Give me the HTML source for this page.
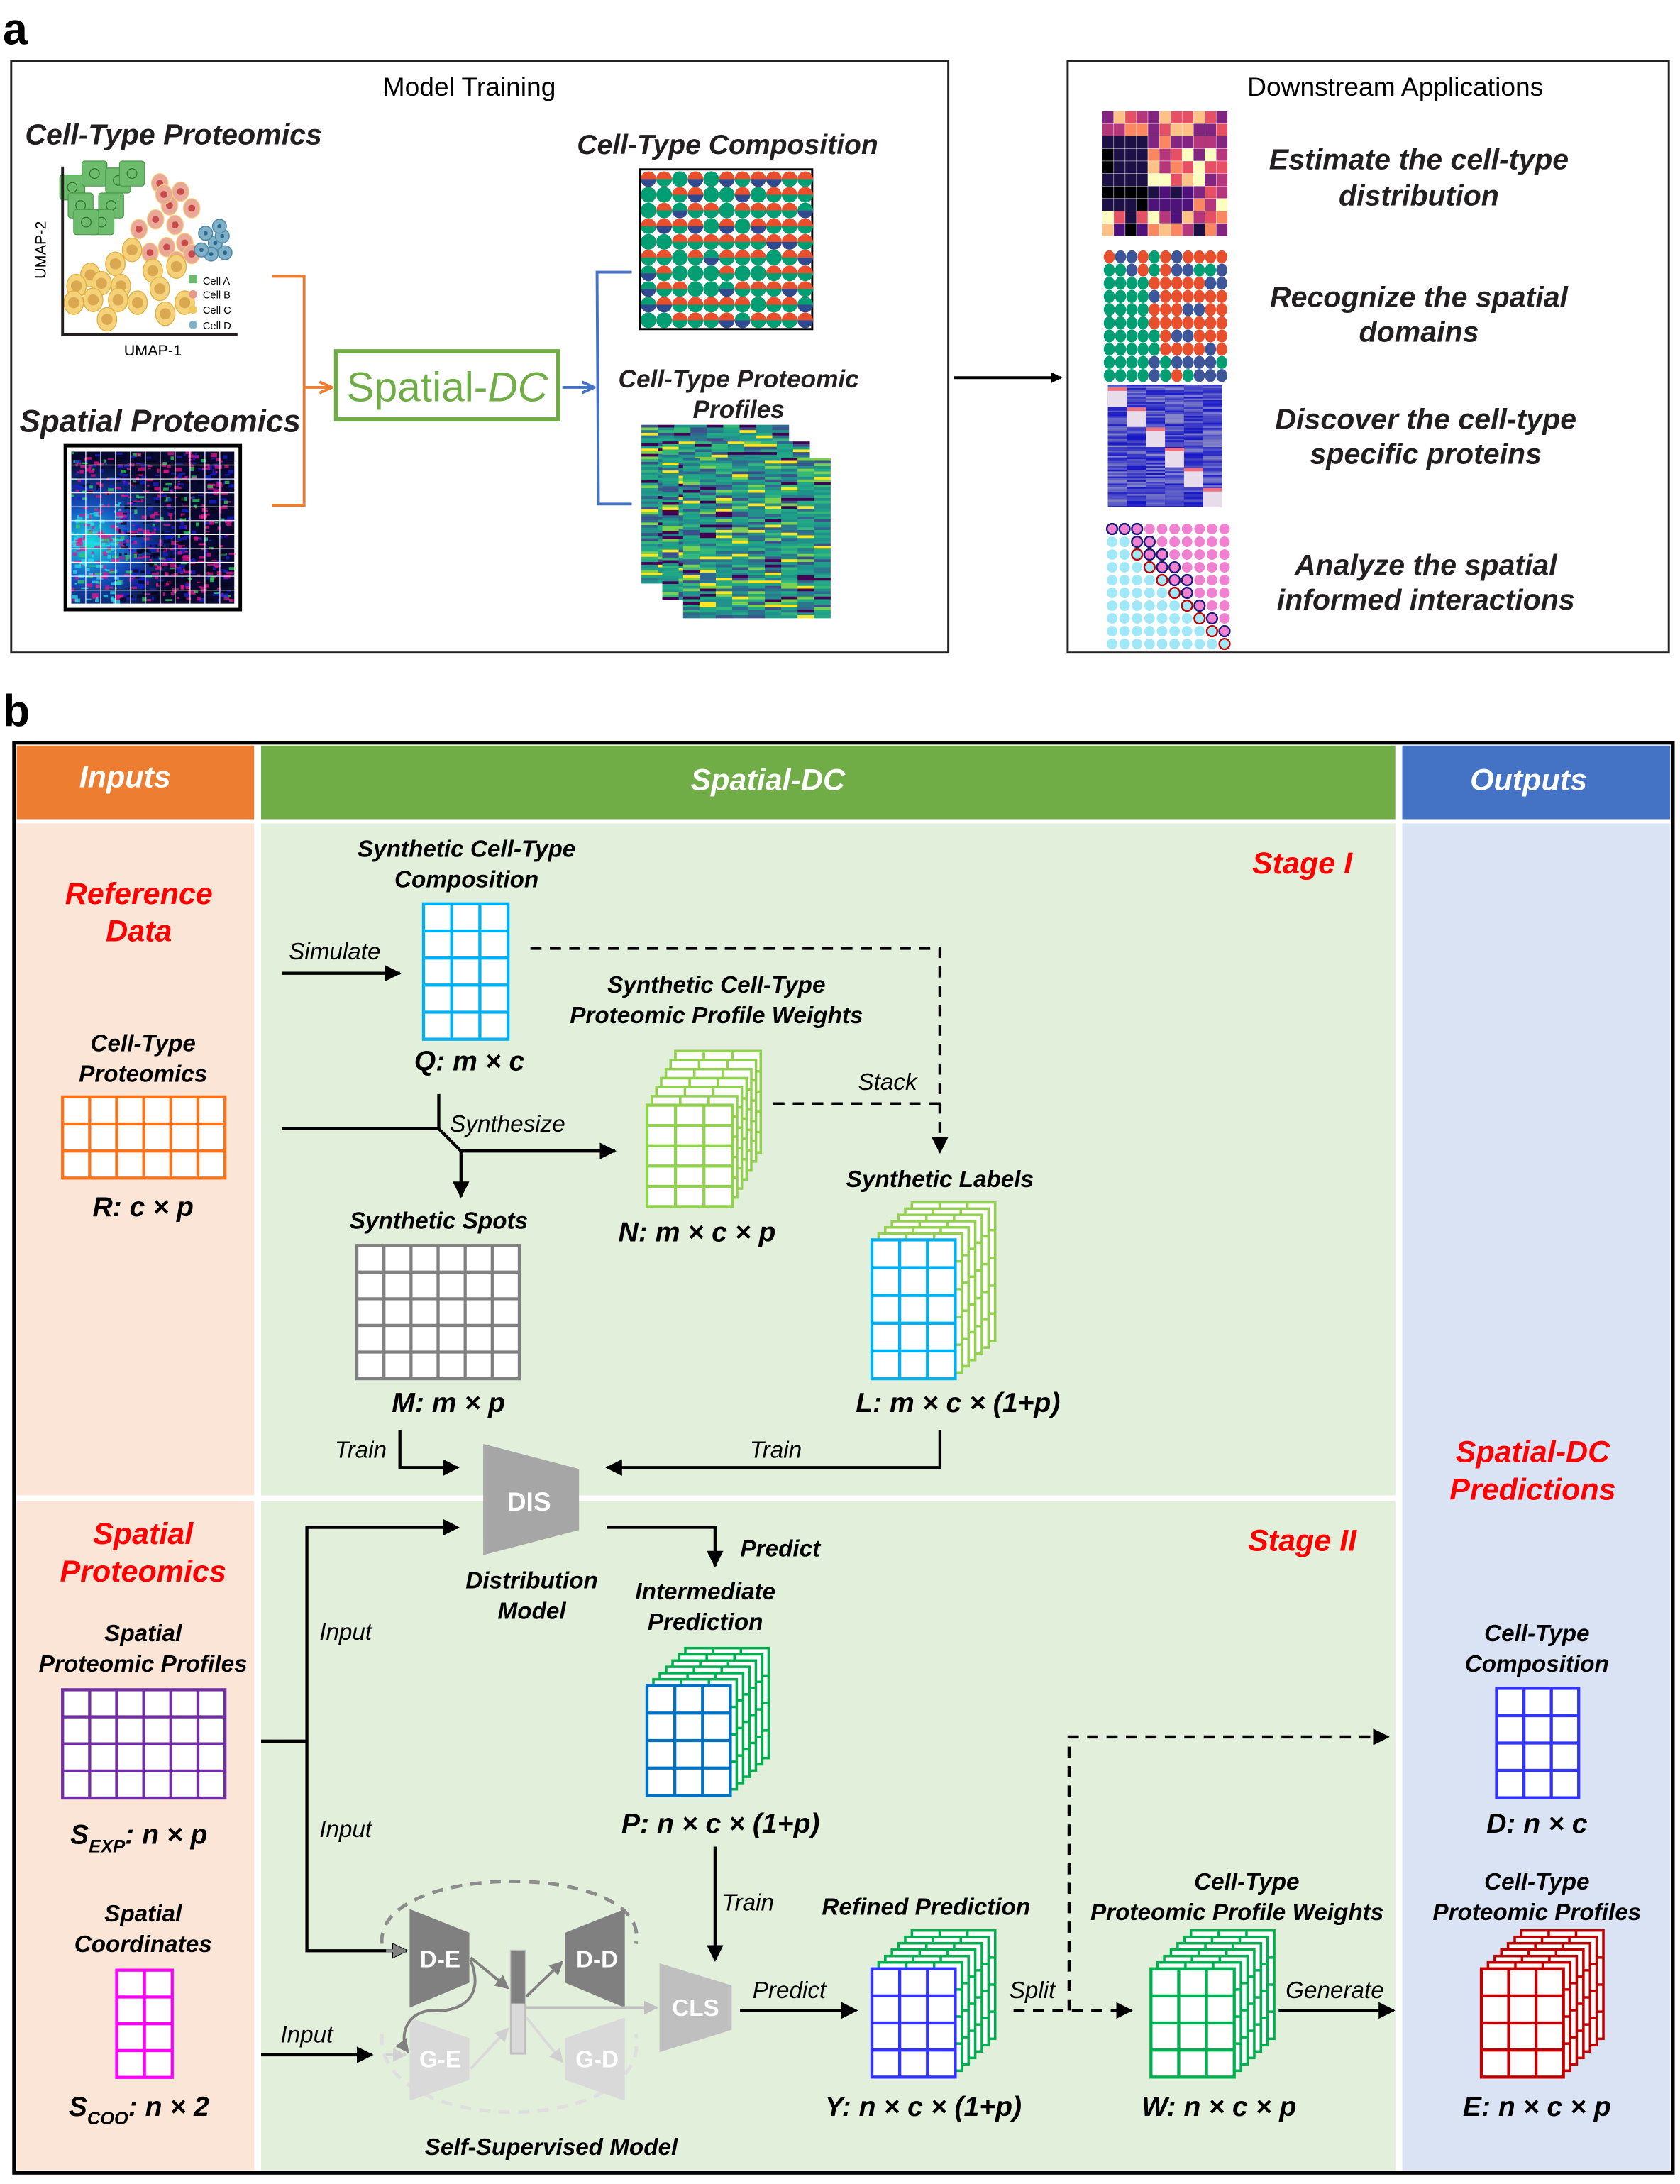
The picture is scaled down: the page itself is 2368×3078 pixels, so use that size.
<!DOCTYPE html>
<html><head><meta charset="utf-8">
<style>
html,body{margin:0;padding:0;background:#fff}
svg{display:block}
text{font-family:"Liberation Sans",Arial,sans-serif}
.bi{font-weight:bold;font-style:italic}
.it{font-style:italic}
</style></head><body>
<svg id="s" xmlns="http://www.w3.org/2000/svg" width="2368" height="3078" viewBox="0 0 1210 1573">
<defs>
<marker id="ah" markerWidth="8" markerHeight="8" refX="7" refY="4" orient="auto" markerUnits="userSpaceOnUse"><path d="M0,0 L8,4 L0,8z" fill="#000"/></marker>
<marker id="ahb" markerWidth="12" markerHeight="12" refX="11" refY="6" orient="auto" markerUnits="userSpaceOnUse"><path d="M0,0 L12,6 L0,12z" fill="#000"/></marker>
<marker id="aho" markerWidth="10" markerHeight="10" refX="9" refY="5" orient="auto" markerUnits="userSpaceOnUse"><path d="M0,1 L9,5 L0,9" fill="none" stroke="#ed7d31" stroke-width="2"/></marker>
<marker id="ahbl" markerWidth="10" markerHeight="10" refX="9" refY="5" orient="auto" markerUnits="userSpaceOnUse"><path d="M0,1 L9,5 L0,9" fill="none" stroke="#4472c4" stroke-width="2"/></marker>
<marker id="ahg" markerWidth="10" markerHeight="10" refX="9" refY="5" orient="auto" markerUnits="userSpaceOnUse"><path d="M0,0 L10,5 L0,10z" fill="#808080"/></marker>
<marker id="ahl" markerWidth="10" markerHeight="10" refX="9" refY="5" orient="auto" markerUnits="userSpaceOnUse"><path d="M0,0 L10,5 L0,10z" fill="#d0d0d0"/></marker>
<marker id="ahm" markerWidth="10" markerHeight="10" refX="9" refY="5" orient="auto" markerUnits="userSpaceOnUse"><path d="M0,0 L10,5 L0,10z" fill="#bfbfbf"/></marker>
<radialGradient id="cy" cx="0.12" cy="0.6" r="0.55"><stop offset="0" stop-color="#19e0e0"/><stop offset="0.45" stop-color="#1450c0"/><stop offset="1" stop-color="#080830"/></radialGradient>
</defs>

<!-- Panel a -->
<text x="2" y="32" font-size="32" font-weight="bold">a</text>
<rect x="8" y="44" width="675" height="426" fill="none" stroke="#222" stroke-width="1.5"/>
<rect x="769" y="44" width="433" height="426" fill="none" stroke="#222" stroke-width="1.5"/>
<text x="338" y="69" font-size="19" text-anchor="middle">Model Training</text>
<text x="1005" y="69" font-size="19" text-anchor="middle">Downstream Applications</text>
<line x1="687" y1="272" x2="764" y2="272" stroke="#000" stroke-width="2" marker-end="url(#ah)"/>

<text x="18" y="104" font-size="21" class="bi" fill="#231f20">Cell-Type Proteomics</text>
<g id="umap"></g>
<polyline points="45,120 45,241 171,241" fill="none" stroke="#231f20" stroke-width="2"/>
<text x="33" y="180" font-size="11" text-anchor="middle" transform="rotate(-90 33 180)">UMAP-2</text>
<text x="110" y="256" font-size="11" text-anchor="middle">UMAP-1</text>
<g font-size="7.5">
<rect x="136" y="198" width="6" height="6" fill="#6dbb6d"/><text x="146" y="205">Cell A</text>
<circle cx="139" cy="212" r="3" fill="#e89a8a"/><text x="146" y="215">Cell B</text>
<circle cx="139" cy="223" r="3" fill="#f0c860"/><text x="146" y="226">Cell C</text>
<circle cx="139" cy="234" r="3" fill="#7fb0c8"/><text x="146" y="237">Cell D</text>
</g>

<text x="14" y="311" font-size="22.5" class="bi" fill="#231f20">Spatial Proteomics</text>
<rect x="47" y="321" width="126" height="118" fill="#fff" stroke="#000" stroke-width="2.5"/>
<rect x="51" y="325" width="118" height="110" fill="url(#cy)"/>
<g id="spimg"></g>

<polyline points="196,199 219,199 219,364 196,364" fill="none" stroke="#ed7d31" stroke-width="2"/>
<line x1="219" y1="279" x2="239" y2="279" stroke="#ed7d31" stroke-width="2" marker-end="url(#aho)"/>
<rect x="242" y="253" width="160" height="49" fill="#fff" stroke="#70ad47" stroke-width="3"/>
<text x="322" y="289" font-size="30" text-anchor="middle" fill="#70ad47">Spatial-<tspan font-style="italic">DC</tspan></text>
<line x1="405" y1="279" x2="428" y2="279" stroke="#4472c4" stroke-width="2" marker-end="url(#ahbl)"/>
<polyline points="455,196 430,196 431,363 455,363" fill="none" stroke="#4472c4" stroke-width="2"/>

<text x="524" y="111" font-size="20" class="bi" text-anchor="middle" fill="#231f20">Cell-Type Composition</text>
<rect x="461" y="122" width="124" height="115" fill="#fff" stroke="#000" stroke-width="1.5"/>
<g id="comp"></g>
<text x="532" y="279" font-size="18" class="bi" text-anchor="middle" fill="#231f20">Cell-Type Proteomic</text>
<text x="532" y="301" font-size="18" class="bi" text-anchor="middle" fill="#231f20">Profiles</text>
<g id="heat"></g>

<g id="down"></g>
<g font-size="21" class="bi" text-anchor="middle" fill="#231f20">
<text x="1022" y="122">Estimate the cell-type</text>
<text x="1022" y="148">distribution</text>
<text x="1022" y="221">Recognize the spatial</text>
<text x="1022" y="246">domains</text>
<text x="1027" y="309">Discover the cell-type</text>
<text x="1027" y="334">specific proteins</text>
<text x="1027" y="414">Analyze the spatial</text>
<text x="1027" y="439">informed interactions</text>
</g>

<!-- Panel b -->
<text x="2" y="523" font-size="32" font-weight="bold">b</text>
<rect x="10" y="535" width="1195" height="1030" fill="#fff" stroke="#000" stroke-width="2.5"/>
<rect x="12" y="537" width="171" height="53" fill="#ed7d31"/>
<rect x="188" y="537" width="817" height="53" fill="#70ad47"/>
<rect x="1010" y="537" width="193" height="53" fill="#4472c4"/>
<rect x="12" y="593" width="171" height="484" fill="#fbe5d6"/>
<rect x="12" y="1081" width="171" height="482" fill="#fbe5d6"/>
<rect x="188" y="593" width="817" height="484" fill="#e2efda"/>
<rect x="188" y="1081" width="817" height="482" fill="#e2efda"/>
<rect x="1010" y="593" width="193" height="970" fill="#dae3f3"/>
<g font-size="22" class="bi" fill="#fff" text-anchor="middle">
<text x="90" y="567">Inputs</text>
<text x="553" y="569">Spatial-DC</text>
<text x="1101" y="569">Outputs</text>
</g>
<g font-size="22" class="bi" fill="#ff0000" text-anchor="middle">
<text x="100" y="651">Reference</text><text x="100" y="678">Data</text>
<text x="103" y="1112">Spatial</text><text x="103" y="1139">Proteomics</text>
<text x="1104" y="1053">Spatial-DC</text><text x="1104" y="1080">Predictions</text>
<text x="938" y="629">Stage I</text>
<text x="938" y="1117">Stage II</text>
</g>
<g font-size="17" class="bi" text-anchor="middle" fill="#000">
<text x="103" y="757">Cell-Type</text><text x="103" y="779">Proteomics</text>
<text x="103" y="1182">Spatial</text><text x="103" y="1204">Proteomic Profiles</text>
<text x="103" y="1384">Spatial</text><text x="103" y="1406">Coordinates</text>
<text x="336" y="617">Synthetic Cell-Type</text><text x="336" y="639">Composition</text>
<text x="516" y="715">Synthetic Cell-Type</text><text x="516" y="737">Proteomic Profile Weights</text>
<text x="677" y="855">Synthetic Labels</text>
<text x="316" y="885">Synthetic Spots</text>
<text x="383" y="1144">Distribution</text><text x="383" y="1166">Model</text>
<text x="508" y="1152">Intermediate</text><text x="508" y="1174">Prediction</text>
<text x="667" y="1379">Refined Prediction</text>
<text x="898" y="1361">Cell-Type</text><text x="891" y="1383">Proteomic Profile Weights</text>
<text x="1107" y="1182">Cell-Type</text><text x="1107" y="1204">Composition</text>
<text x="1107" y="1361">Cell-Type</text><text x="1107" y="1383">Proteomic Profiles</text>
<text x="397" y="1552">Self-Supervised Model</text>
<text x="562" y="1121">Predict</text>
</g>
<g font-size="20" class="bi" text-anchor="middle" fill="#000">
<text x="103" y="876">R: c × p</text>
<text x="338" y="771">Q: m × c</text>
<text x="502" y="894">N: m × c × p</text>
<text x="323" y="1017">M: m × p</text>
<text x="690" y="1017">L: m × c × (1+p)</text>
<text x="519" y="1320">P: n × c × (1+p)</text>
<text x="100" y="1328">S<tspan font-size="13" dy="6">EXP</tspan><tspan dy="-6">: n × p</tspan></text>
<text x="100" y="1524">S<tspan font-size="13" dy="6">COO</tspan><tspan dy="-6">: n × 2</tspan></text>
<text x="665" y="1524">Y: n × c × (1+p)</text>
<text x="878" y="1524">W: n × c × p</text>
<text x="1107" y="1320">D: n × c</text>
<text x="1107" y="1524">E: n × c × p</text>
</g>
<g font-size="17" class="it" fill="#000">
<text x="208" y="691">Simulate</text>
<text x="324" y="815">Synthesize</text>
<text x="618" y="785">Stack</text>
<text x="241" y="1050">Train</text>
<text x="540" y="1050">Train</text>
<text x="230" y="1181">Input</text>
<text x="230" y="1323">Input</text>
<text x="202" y="1471">Input</text>
<text x="520" y="1376">Train</text>
<text x="542" y="1439">Predict</text>
<text x="727" y="1439">Split</text>
<text x="926" y="1439">Generate</text>
</g>

<g id="grids"></g>

<g stroke="#000" stroke-width="2.2" fill="none">
<line x1="203" y1="701" x2="288" y2="701" marker-end="url(#ahb)"/>
<polyline points="382,683 677,683 677,830" stroke-dasharray="8,6" marker-end="url(#ahb)"/>
<line x1="557" y1="795" x2="677" y2="795" stroke-dasharray="8,6"/>
<line x1="316" y1="788" x2="316" y2="813"/>
<polyline points="203,813 316,813 332,829 443,829" marker-end="url(#ahb)"/>
<line x1="332" y1="829" x2="332" y2="862" marker-end="url(#ahb)"/>
<polyline points="288,1030 288,1057 330,1057" marker-end="url(#ahb)"/>
<polyline points="677,1030 677,1057 437,1057" marker-end="url(#ahb)"/>
<polyline points="437,1100 515,1100 515,1128" marker-end="url(#ahb)"/>
<polyline points="188,1254 221,1254"/>
<polyline points="330,1100 221,1100 221,1405 293,1405" marker-end="url(#ahb)"/>
<line x1="221" y1="1100" x2="330" y2="1100" marker-end="url(#ahb)"/>
<line x1="188" y1="1480" x2="268" y2="1480" marker-end="url(#ahb)"/>
<line x1="515" y1="1330" x2="515" y2="1412" marker-end="url(#ahb)"/>
<line x1="533" y1="1448" x2="617" y2="1448" marker-end="url(#ahb)"/>
<line x1="730" y1="1448" x2="815" y2="1448" stroke-dasharray="8,6" marker-end="url(#ahb)"/>
<polyline points="770,1448 770,1251 1000,1251" stroke-dasharray="8,6" marker-end="url(#ahb)"/>
<line x1="921" y1="1448" x2="1004" y2="1448" marker-end="url(#ahb)"/>
</g>

<!-- DIS -->
<polygon points="348,1040 417,1058 417,1102 348,1120" fill="#a6a6a6"/>
<text x="381" y="1088" font-size="19" font-weight="bold" fill="#fff" text-anchor="middle">DIS</text>

<!-- self-supervised -->
<path d="M275,1400 C270,1340 470,1340 458,1400" fill="none" stroke="#8c8c8c" stroke-width="2.5" stroke-dasharray="8,6"/>
<path d="M275,1465 C270,1540 470,1540 458,1465" fill="none" stroke="#dedede" stroke-width="2.5" stroke-dasharray="8,6"/>
<polygon points="295,1375 338,1392 338,1428 295,1446" fill="#808080"/>
<polygon points="407,1392 450,1375 450,1446 407,1428" fill="#808080"/>
<polygon points="295,1453 338,1468 338,1498 295,1513" fill="#d9d9d9"/>
<polygon points="407,1468 450,1453 450,1513 407,1498" fill="#d9d9d9"/>
<polygon points="475,1414 527,1430 527,1462 475,1478" fill="#bfbfbf"/>
<rect x="368" y="1405" width="10" height="74" fill="#d9d9d9" stroke="#bfbfbf" stroke-width="1.5"/>
<rect x="368" y="1405" width="10" height="38" fill="#808080"/>
<g stroke-width="2" fill="none">
<line x1="278" y1="1405" x2="292" y2="1405" stroke="#8c8c8c" marker-end="url(#ahg)"/>
<line x1="278" y1="1480" x2="292" y2="1480" stroke="#d0d0d0" marker-end="url(#ahl)"/>
<line x1="339" y1="1410" x2="366" y2="1432" stroke="#808080" marker-end="url(#ahg)"/>
<line x1="379" y1="1438" x2="405" y2="1413" stroke="#808080" marker-end="url(#ahg)"/>
<line x1="379" y1="1446" x2="473" y2="1446" stroke="#bfbfbf" marker-end="url(#ahm)"/>
<line x1="339" y1="1490" x2="366" y2="1461" stroke="#d9d9d9" marker-end="url(#ahl)"/>
<line x1="379" y1="1453" x2="405" y2="1485" stroke="#d9d9d9" marker-end="url(#ahl)"/>
<path d="M339,1412 C350,1440 330,1450 310,1448 C290,1450 288,1470 294,1478" stroke="#808080" marker-end="url(#ahg)"/>
</g>
<g font-size="17" font-weight="bold" fill="#fff" text-anchor="middle">
<text x="317" y="1417">D-E</text><text x="430" y="1417">D-D</text>
<text x="317" y="1489">G-E</text><text x="430" y="1489">G-D</text>
<text x="501" y="1452">CLS</text>
</g>
</svg>
<script>
var NS="http://www.w3.org/2000/svg";
function el(p,t,a){var e=document.createElementNS(NS,t);for(var k in a)e.setAttribute(k,a[k]);p.appendChild(e);return e;}
var seed=7;function rnd(){seed=(seed*16807)%2147483647;return (seed-1)/2147483646;}
function $(id){return document.getElementById(id);}
var G=$("grids");
function grid(x,y,c,r,w,h,col,sw){el(G,"rect",{x:x,y:y,width:c*w,height:r*h,fill:"#fff",stroke:col,"stroke-width":sw||2.2});
for(var i=1;i<c;i++)el(G,"line",{x1:x+i*w,y1:y,x2:x+i*w,y2:y+r*h,stroke:col,"stroke-width":sw||2.2});
for(var j=1;j<r;j++)el(G,"line",{x1:x,y1:y+j*h,x2:x+c*w,y2:y+j*h,stroke:col,"stroke-width":sw||2.2});}
function stack(x,y,c,r,w,h,back,front,n,dx,dy){for(var k=n;k>=1;k--)grid(x+k*dx,y-k*dy,c,r,w,h,back,1.8);grid(x,y,c,r,w,h,front,2.2);}
grid(45,790,6,3,19.5,19.5,"#f4741f");
grid(305,651,3,5,20.3,19.5,"#00b0f0");
stack(466,796,3,5,20.5,14.6,"#92d050","#92d050",6,3.4,6.5);
grid(257,897,6,5,19.5,19.2,"#808080");
stack(628,893,3,5,20,20,"#92d050","#00b0f0",6,4.8,4.5);
grid(45,1217,6,4,19.5,19.5,"#7030a0");
grid(84,1419,2,4,20,19.3,"#ff00ff");
stack(466,1214,3,4,20,19.8,"#00b050","#0070c0",6,4.6,4.5);
stack(628,1418,3,4,20,19.5,"#00b050","#3333ff",6,4.8,4.6);
stack(829,1418,3,4,20,19.5,"#00b050","#00b050",6,4.8,4.6);
grid(1078,1216,3,4,19.7,19.7,"#3333ff");
stack(1067,1418,3,4,19.7,19.5,"#c00000","#c00000",6,4.8,4.6);
var U=$("umap");
[[52,135],[68,125],[85,130],[95,125],[58,148],[80,148],[73,160],[62,160]].forEach(function(p){el(U,"rect",{x:p[0]-9,y:p[1]-9,width:18,height:18,rx:2,fill:"#6dbb6d",stroke:"#4a9a4a","stroke-width":0.6});el(U,"circle",{cx:p[0],cy:p[1],r:3.5,fill:"none",stroke:"#2f6f2f","stroke-width":0.6});});
[[115,142],[122,158],[130,148],[112,168],[126,172],[138,160],[100,175],[120,188],[133,185],[108,192],[138,193],[127,198],[118,150]].forEach(function(p){el(U,"ellipse",{cx:p[0]+0,cy:p[1]-10,rx:6,ry:7,fill:"#eaa898",stroke:"#f5d27a","stroke-width":0.6});el(U,"circle",{cx:p[0],cy:p[1]-10,r:2.5,fill:"#c84a4a"});});
[[148,168],[155,175],[160,170],[152,183],[162,182],[145,180],[158,163]].forEach(function(p){el(U,"circle",{cx:p[0],cy:p[1],r:5,fill:"#7fb0c8",stroke:"#4f8aa8","stroke-width":0.8});el(U,"circle",{cx:p[0],cy:p[1],r:1.5,fill:"#2a6a8a"});});
[[100,198],[88,208],[70,216],[60,224],[78,222],[92,224],[115,213],[132,210],[58,236],[72,234],[90,234],[104,236],[120,226],[124,244],[138,236],[82,248]].forEach(function(p){el(U,"ellipse",{cx:p[0]-5,cy:p[1]-18,rx:7,ry:8.5,fill:"#f5d27a",stroke:"#e0b040","stroke-width":0.7});el(U,"circle",{cx:p[0]-5,cy:p[1]-18,r:4,fill:"#d9a850"});});
var S=$("spimg");
for(var i=0;i<900;i++){var x=51+rnd()*114,y=325+rnd()*107;var r=rnd();var c=r<0.35?"#e0168a":(r<0.45?"#30d060":(r<0.7?"#1a20d0":"#05051a"));if(x<85&&y>360&&r>0.45)c="#30d8e8";el(S,"rect",{x:x,y:y,width:1.5+rnd()*4,height:1+rnd()*2,fill:c,opacity:0.75});}
for(var i=0;i<=11;i++){el(S,"line",{x1:51+i*118/11,y1:325,x2:51+i*118/11,y2:435,stroke:"#fff","stroke-width":0.6});el(S,"line",{x1:51,y1:325+i*10,x2:169,y2:325+i*10,stroke:"#fff","stroke-width":0.6});}
var C=$("comp"),cols=["#009e73","#e8502d","#2f4b8f"];
for(var j=0;j<10;j++)for(var i=0;i<11;i++){var cx=467+i*11.3,cy=129+j*11.3;var r=rnd();el(C,"circle",{cx:cx,cy:cy,r:5.6,fill:cols[1]});el(C,"path",{d:"M"+(cx-5.6)+","+cy+" a5.6,5.6 0 0,0 11.2,0z",fill:r<0.25?cols[2]:cols[0]});if(rnd()<0.3)el(C,"path",{d:"M"+(cx-5.6)+","+cy+" a5.6,5.6 0 0,1 11.2,0z",fill:cols[0]});}
var H=$("heat");var vir=["#2a788e","#22a884","#22a884","#35b779","#21918c","#21918c","#1f9e89","#31688e","#3b528b","#7ad151","#440154","#fde725"];
function heat(x,y,w,h){el(H,"rect",{x:x,y:y,width:w,height:h,fill:"#21918c"});var nc=9,nr=60;for(var i=0;i<nc;i++)for(var j=0;j<nr;j++){el(H,"rect",{x:x+i*w/nc,y:y+j*h/nr,width:w/nc+0.3,height:h/nr+0.3,fill:vir[Math.floor(rnd()*vir.length)]});}}
heat(462,306,106,114);heat(477,318,106,114);heat(492,330,106,115);
var D=$("down");
var mag=["#000004","#1c1044","#4f127b","#812581","#b5367a","#e55064","#fb8761","#fec287","#fcfdbf"];
for(var j=0;j<10;j++)for(var i=0;i<11;i++){var v=Math.floor(3+rnd()*6);if(i<4&&j>1&&j<9)v=Math.floor(rnd()*2);if(i<8&&j>5&&j<8&&i>=4)v=Math.floor(rnd()*3);if(j>7)v=Math.floor(rnd()*9);el(D,"rect",{x:794+i*8.2,y:80+j*9,width:8.2,height:9,fill:mag[v],stroke:"#fff","stroke-width":0.2});}
var dc=["#009e73","#e8502d","#3c5699"];
for(var j=0;j<10;j++)for(var i=0;i<11;i++){var f;if(j<2)f=Math.floor(rnd()*3);else if(i<4)f=0;else if(j<8&&i>4)f=(rnd()<0.85?1:2);else f=Math.floor(rnd()*3);el(D,"ellipse",{cx:799+i*8.1,cy:185+j*9.5,rx:4,ry:4.7,fill:dc[f]});}
el(D,"rect",{x:798,y:277,width:82,height:88,fill:"#1a1a9a"});
for(var j=0;j<70;j++)for(var i=0;i<6;i++){var b=Math.floor(20+rnd()*120);el(D,"rect",{x:798+i*13.7,y:277+j*1.25,width:13.7,height:1.3,fill:"rgb("+(b)+","+(b)+",200)"});}
for(var i=0;i<6;i++){el(D,"rect",{x:798+i*13.7,y:279+i*14.5,width:13.7,height:14,fill:"#e8dcea"});el(D,"rect",{x:798+i*13.7,y:279+i*14.5,width:13.7,height:2.5,fill:"#f07080"});}
for(var j=0;j<10;j++)for(var i=0;i<10;i++){var d=i-j*0.9;var pink=d>1||(j==0&&i<3);var f=pink?"#f080d0":"#a0e8f8";var st="none";if(Math.abs(d-1.3)<1.2&&!(j==0&&i>2))st=pink?"#1a1a7a":"#c00000";if(j==0&&i<3)st="#1a1a7a";el(D,"circle",{cx:801+i*9,cy:381+j*9.2,r:3.8,fill:f,stroke:st,"stroke-width":st=="none"?0:1.2});}
</script>
</body></html>
